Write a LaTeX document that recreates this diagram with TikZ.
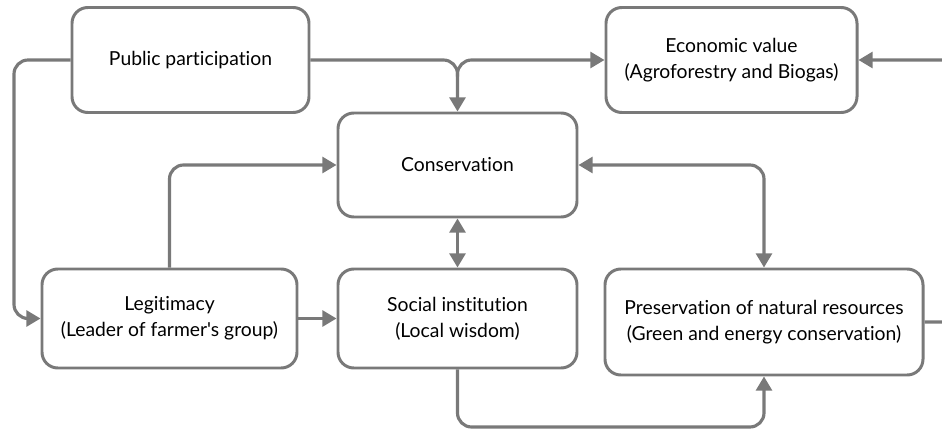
\documentclass[tikz,border=0pt]{standalone}
\usepackage{fontspec}
\setmainfont{Lato}[Ligatures={TeXOff,NoCommon}]
\usepackage{tikz}
\usetikzlibrary{arrows.meta,positioning}

\begin{document}
\begin{tikzpicture}[box/.style={draw=gray!95!black,line width=1.7pt,rounded corners=9pt,fill=white,align=center,inner sep=0pt,font=\fontsize{11}{15}\selectfont},
   link/.style={draw=gray!95!black,line width=1.8pt,rounded corners=8pt,-{Triangle[length=8pt,width=9pt]}},
   both/.style={link,{Triangle[length=8pt,width=9pt]}-{Triangle[length=8pt,width=9pt]}}]
   \useasboundingbox (0,0) rectangle (18.84,8.62);
   \node[box,minimum width=4.74cm,minimum height=2.1cm] (pub)  at (3.81,7.42) {Public participation};
   \node[box,minimum width=5.02cm,minimum height=2.1cm] (eco)  at (14.63,7.42) {Economic value\\(Agroforestry and Biogas)};
   \node[box,minimum width=4.78cm,minimum height=2.08cm] (cons) at (9.15,5.32) {Conservation};
   \node[box,minimum width=5.1cm,minimum height=1.98cm] (leg)   at (3.39,2.25) {Legitimacy\\(Leader of farmer's group)};
   \node[box,minimum width=4.78cm,minimum height=1.98cm] (soc)  at (9.15,2.25) {Social institution\\(Local wisdom)};
   \node[box,minimum width=6.36cm,minimum height=2.12cm] (pres) at (15.28,2.18) {Preservation of natural resources\\(Green and energy conservation)};

   \coordinate[above=0.7cm of cons.north] (fork);
   \coordinate (west) at (0.28,2.25);
   \coordinate (low)  at (15.28,0.08);
   \coordinate (east) at (19.3,7.42);

   % connectors
   \draw[link] (pub.west) -| (west) -- (leg.west);
   \draw[link] (pub.east) -| (cons.north);
   \draw[link] (fork) |- (eco.west);
   \draw[link] (leg.north) |- (cons.west);
   \draw[link] (leg.east) -- (soc.west);
   \draw[both] (cons.south) -- (soc.north);
   \draw[both] (cons.east) -| (pres.north);
   \draw[link] (soc.south) |- (low) -- (pres.south);
   \draw[link] (pres.east) -| (east) -- (eco.east);
\end{tikzpicture}
\end{document}
